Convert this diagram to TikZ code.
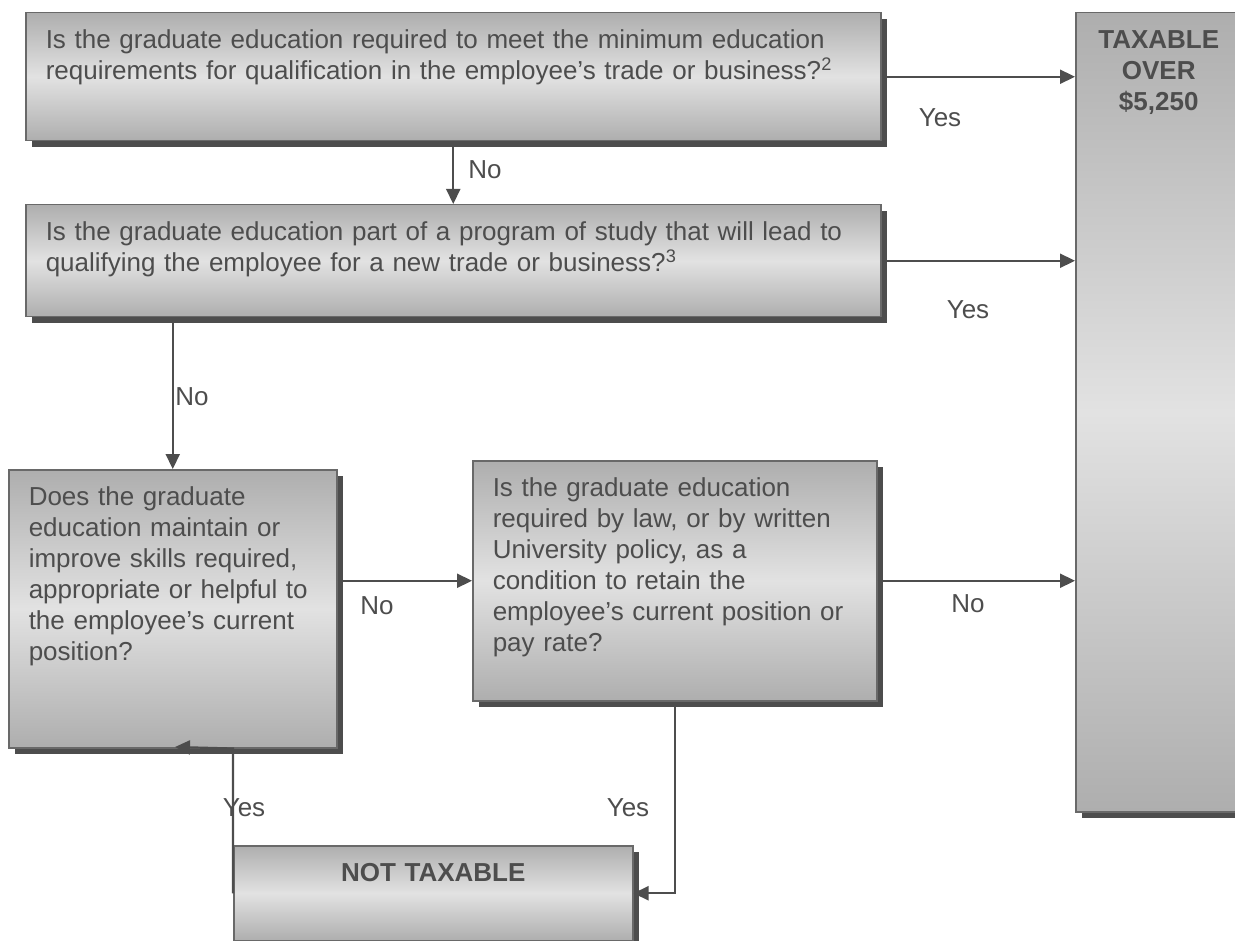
\documentclass[tikz,border=0pt]{standalone}
\usepackage{fontspec}
\setmainfont{Liberation Sans}
\usetikzlibrary{positioning,shadows,arrows.meta}
\definecolor{inkgray}{RGB}{77,77,77}
\definecolor{edgegray}{RGB}{105,105,105}
\definecolor{shadegray}{RGB}{174,174,174}
\definecolor{paleshade}{RGB}{226,226,226}
\tikzset{
	box/.style={draw=edgegray, line width=1.5pt,
		top color=shadegray, bottom color=shadegray, middle color=paleshade,
		drop shadow={shadow xshift=6pt, shadow yshift=-6pt, fill=inkgray, opacity=1},
		anchor=north west, align=left,
		inner xsep=20pt, inner ysep=17pt, text height=19pt,
		font=\fontsize{26}{31}\selectfont, text=inkgray},
	flow/.style={draw=inkgray, line width=2.2pt, -{Triangle[length=15pt,width=14pt]}},
	tag/.style={font=\fontsize{26}{31}\selectfont, text=inkgray}
}

\begin{document}
\begin{tikzpicture}[x=1pt,y=-1pt]
\useasboundingbox (0,0) rectangle (1235,941);

% Minimum requirements
\node [box,
	text width=815pt,
	text depth=75pt
] (minreq) at (25,12) {
Is the graduate education required to meet the minimum education\\
requirements for qualification in the employee’s trade or business?\textsuperscript{2}
};

% New trade
\node [box,
	text width=815pt,
	text depth=59pt
] (newtrade) at (25,204) {
Is the graduate education part of a program of study that will lead to\\
qualifying the employee for a new trade or business?\textsuperscript{3}
};

% Skills
\node [box,
	text width=288pt,
	text depth=225pt
] (skills) at (8,469) {
Does the graduate\\
education maintain or\\
improve skills required,\\
appropriate or helpful to\\
the employee’s current\\
position?
};

% Required by law
\node [box,
	text width=364pt,
	text depth=187pt
] (lawreq) at (472,460) {
Is the graduate education\\
required by law, or by written\\
University policy, as a\\
condition to retain the\\
employee's current position or\\
pay rate?
};

% Taxable
\node [box,
	align=center,
	text width=126pt,
	text depth=746pt,
	font=\fontsize{26}{31}\selectfont\bfseries
] (taxable) at (1075,12) {
TAXABLE\\
OVER\\
\$5,250
};

% Not taxable
\node [box,
	align=center,
	text width=359pt,
	text depth=42pt,
	font=\fontsize{26}{31}\selectfont\bfseries
] (nottax) at (233,845) {
NOT TAXABLE
};

% Arrows with text label
\draw[flow] (minreq.east) -- (minreq.east -| taxable.west);
\draw[flow] (minreq.south) -- (newtrade.north);
\draw[flow] (newtrade.east) -- (newtrade.east -| taxable.west);
\draw[flow] (skills.north |- newtrade.south) -- (skills.north);
\draw[flow] (skills.east |- lawreq.west) -- (lawreq.west);
\draw[flow] (lawreq.east) -- (lawreq.east -| taxable.west);
\draw[flow] (lawreq.south) |- (nottax.east);
\coordinate (backtip) at (175,747);
\draw[flow] (nottax.west) -- (nottax.west |- skills.south) -- (backtip);

\node [tag] (yes1) at (940,118) {Yes};
\node [tag] (no1) at (485,170) {No};
\node [tag] (yes2) at (968,310) {Yes};
\node [tag] (no2) at (192,397) {No};
\node [tag] (no3) at (377,606) {No};
\node [tag] (no4) at (968,604) {No};
\node [tag] (yes3) at (244,808) {Yes};
\node [tag] (yes4) at (628,808) {Yes};

\end{tikzpicture}
\end{document}
